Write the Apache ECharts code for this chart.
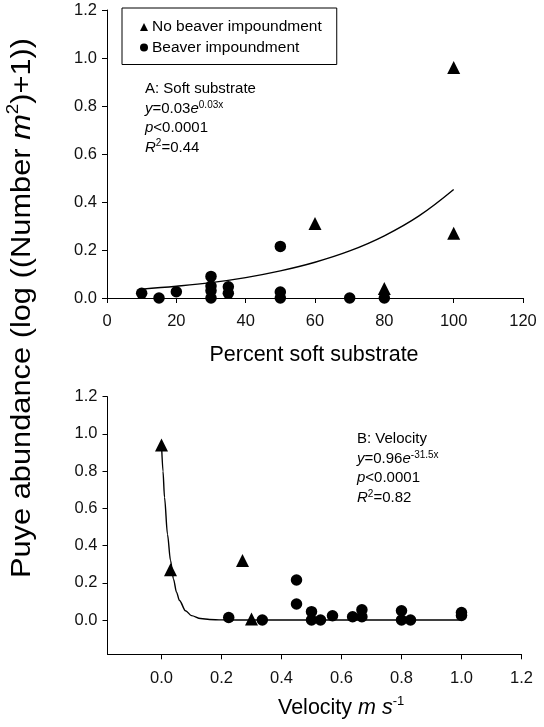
<!DOCTYPE html>
<html>
<head>
<meta charset="utf-8">
<script src="https://cdn.jsdelivr.net/npm/echarts@6/dist/echarts.min.js"></script>
<style>
html,body{margin:0;padding:0;background:#fff;}
#c{width:544px;height:727px;}
</style>
</head>
<body>
<div id="c"></div>
<script>
// ---- Panel A: percent soft substrate ----
const aTicksX = [0, 20, 40, 60, 80, 100, 120];
const aTicksY = [0.0, 0.2, 0.4, 0.6, 0.8, 1.0, 1.2];
const aNoBeaverX = [60, 80, 100, 100];
const aNoBeaverY = [0.31, 0.04, 0.96, 0.27];
const aBeaverX = [10, 15, 20, 30, 30, 30, 30, 35, 35, 50, 50, 50, 70, 80];
const aBeaverY = [0.02, 0.0, 0.026, 0.09, 0.05, 0.03, 0.0, 0.047, 0.02, 0.215, 0.025, 0.0, 0.0, 0.0];
const aFitX = [10, 20, 30, 40, 50, 60, 70, 80, 90, 100];
const aFitY = [0.037, 0.049, 0.064, 0.085, 0.113, 0.149, 0.196, 0.259, 0.342, 0.452];

// ---- Panel B: velocity ----
const bTicksX = [0.0, 0.2, 0.4, 0.6, 0.8, 1.0, 1.2];
const bTicksY = [0.0, 0.2, 0.4, 0.6, 0.8, 1.0, 1.2];
const bNoBeaverX = [0.0, 0.03, 0.27, 0.30];
const bNoBeaverY = [0.94, 0.27, 0.32, 0.005];
const bBeaverX = [0.224, 0.336, 0.45, 0.45, 0.50, 0.50, 0.53, 0.57, 0.637, 0.668, 0.668, 0.80, 0.80, 0.83, 1.0, 1.0];
const bBeaverY = [0.014, 0.0, 0.215, 0.086, 0.045, 0.0, 0.0, 0.023, 0.018, 0.055, 0.018, 0.05, 0.0, 0.0, 0.04, 0.025];
const bFitX = [0.0, 0.005, 0.01, 0.02, 0.03, 0.04, 0.05, 0.06, 0.08, 0.10, 0.13, 0.16, 0.20, 0.30, 0.50, 0.75, 1.0];
const bFitY = [0.95, 0.80, 0.66, 0.46, 0.32, 0.22, 0.15, 0.105, 0.05, 0.024, 0.008, 0.003, 0.001, 0.0, 0.0, 0.0, 0.0];

const legendNames = ['No beaver impoundment', 'Beaver impoundment'];

const FONT = '"Liberation Sans", Arial, Helvetica, sans-serif';
const zip = (xs, ys) => xs.map((x, i) => [x, ys[i]]);

const axisCommon = {
  axisLine: { show: true, onZero: false, lineStyle: { color: '#000', width: 1 } },
  axisTick: { show: true, inside: false, length: 5, lineStyle: { color: '#000', width: 1 } },
  splitLine: { show: false },
  axisLabel: { color: '#111', fontSize: 16.5, fontFamily: FONT }
};

const chart = echarts.init(document.getElementById('c'), null, { renderer: 'canvas' });

const rich = {
  i: { fontStyle: 'italic', fontSize: 15, fontFamily: FONT, color: '#000', lineHeight: 18 },
  sup: { fontSize: 10, fontFamily: FONT, color: '#000', verticalAlign: 'top', lineHeight: 18 },
  n: { fontSize: 15, fontFamily: FONT, color: '#000', lineHeight: 18 }
};
function annot(x, y, txt) {
  return { type: 'text', left: x, top: y, style: { text: txt, rich: rich, font: '15px ' + FONT, fill: '#000' } };
}
const markStyle = { color: '#000', opacity: 1, borderWidth: 0 };

const option = {
  backgroundColor: '#fff',
  animation: false,
  grid: [
    { left: 107, top: 10, width: 416, height: 288, containLabel: false },
    { left: 107.5, top: 396.7, width: 414, height: 257.6, containLabel: false }
  ],
  legend: {
    data: [
      { name: legendNames[0], icon: 'triangle' },
      { name: legendNames[1], icon: 'circle' }
    ],
    orient: 'vertical',
    left: 122,
    top: 8,
    itemWidth: 8,
    itemHeight: 8,
    itemGap: 4.5,
    padding: [11, 15, 9, 18],
    borderColor: '#000',
    borderWidth: 1,
    selectedMode: false,
    itemStyle: { opacity: 1 },
    textStyle: { color: '#000', fontSize: 15.5, fontFamily: FONT, padding: [0, 0, 0, -1] }
  },
  xAxis: [
    Object.assign({}, axisCommon, {
      gridIndex: 0, type: 'value', min: 0, max: 120, interval: 20,
      axisLabel: Object.assign({}, axisCommon.axisLabel, { margin: 15 })
    }),
    Object.assign({}, axisCommon, {
      gridIndex: 1, type: 'value', min: -0.18, max: 1.2,
      axisTick: Object.assign({}, axisCommon.axisTick, { customValues: bTicksX }),
      axisLabel: Object.assign({}, axisCommon.axisLabel, { margin: 16, customValues: bTicksX, formatter: v => v.toFixed(1) })
    })
  ],
  yAxis: [
    Object.assign({}, axisCommon, {
      gridIndex: 0, type: 'value', min: 0, max: 1.2, interval: 0.2,
      axisLabel: Object.assign({}, axisCommon.axisLabel, { margin: 10, formatter: v => v.toFixed(1) })
    }),
    Object.assign({}, axisCommon, {
      gridIndex: 1, type: 'value', min: -0.184, max: 1.2,
      axisTick: Object.assign({}, axisCommon.axisTick, { customValues: bTicksY }),
      axisLabel: Object.assign({}, axisCommon.axisLabel, { margin: 10, customValues: bTicksY, formatter: v => v.toFixed(1) })
    })
  ],
  series: [
    { type: 'line', xAxisIndex: 0, yAxisIndex: 0, data: zip(aFitX, aFitY), showSymbol: false, symbol: 'none', smooth: 0.4, silent: true,
      lineStyle: { color: '#000', width: 1.4 }, z: 1 },
    { name: legendNames[0], type: 'scatter', xAxisIndex: 0, yAxisIndex: 0, data: zip(aNoBeaverX, aNoBeaverY), symbol: 'triangle', symbolSize: 13,
      itemStyle: markStyle, z: 3 },
    { name: legendNames[1], type: 'scatter', xAxisIndex: 0, yAxisIndex: 0, data: zip(aBeaverX, aBeaverY), symbol: 'circle', symbolSize: 11.5,
      itemStyle: markStyle, z: 3 },
    { type: 'line', xAxisIndex: 1, yAxisIndex: 1, data: zip(bFitX, bFitY), showSymbol: false, symbol: 'none', smooth: 0.3, smoothMonotone: 'x', silent: true,
      lineStyle: { color: '#000', width: 1.4 }, z: 1 },
    { name: legendNames[0], type: 'scatter', xAxisIndex: 1, yAxisIndex: 1, data: zip(bNoBeaverX, bNoBeaverY), symbol: 'triangle', symbolSize: 13,
      itemStyle: markStyle, z: 3 },
    { name: legendNames[1], type: 'scatter', xAxisIndex: 1, yAxisIndex: 1, data: zip(bBeaverX, bBeaverY), symbol: 'circle', symbolSize: 11.5,
      itemStyle: markStyle, z: 3 }
  ],
  graphic: [
    // Panel A annotation
    annot(145, 81, '{n|A: Soft substrate}'),
    annot(145, 100, '{i|y}{n|=0.03}{i|e}{sup|0.03x}'),
    annot(145, 120, '{i|p}{n|<0.0001}'),
    annot(145, 138.5, '{i|R}{sup|2}{n|=0.44}'),
    // Panel B annotation
    annot(357, 431, '{n|B: Velocity}'),
    annot(357, 450, '{i|y}{n|=0.96}{i|e}{sup|-31.5x}'),
    annot(357, 470, '{i|p}{n|<0.0001}'),
    annot(357, 489, '{i|R}{sup|2}{n|=0.82}'),
    // axis titles
    { type: 'text', x: 314, y: 355, style: { text: 'Percent soft substrate', font: '21.5px ' + FONT, fill: '#000', align: 'center', verticalAlign: 'middle' } },
    { type: 'text', x: 278, y: 708, style: {
        text: '{t|Velocity }{ti|m}{t| }{ti|s}{ts|-1}', align: 'left', verticalAlign: 'middle',
        rich: {
          t: { fontSize: 21.5, fontFamily: FONT, color: '#000', lineHeight: 26 },
          ti: { fontSize: 21.5, fontFamily: FONT, fontStyle: 'italic', color: '#000', lineHeight: 26 },
          ts: { fontSize: 13, fontFamily: FONT, color: '#000', verticalAlign: 'top', lineHeight: 26 }
        } } },
    { type: 'text', x: 22, y: 308, rotation: Math.PI / 2, scaleX: 1.1, scaleY: 1, style: {
        text: '{t|Puye abundance (log ((Number }{ti|m}{ts|2}{t|)+1))}', align: 'center', verticalAlign: 'middle',
        rich: {
          t: { fontSize: 28, fontFamily: FONT, color: '#000', lineHeight: 34 },
          ti: { fontSize: 28, fontFamily: FONT, fontStyle: 'italic', color: '#000', lineHeight: 34 },
          ts: { fontSize: 17, fontFamily: FONT, color: '#000', verticalAlign: 'top', lineHeight: 34 }
        } } }
  ]
};
chart.setOption(option);
</script>
</body>
</html>
